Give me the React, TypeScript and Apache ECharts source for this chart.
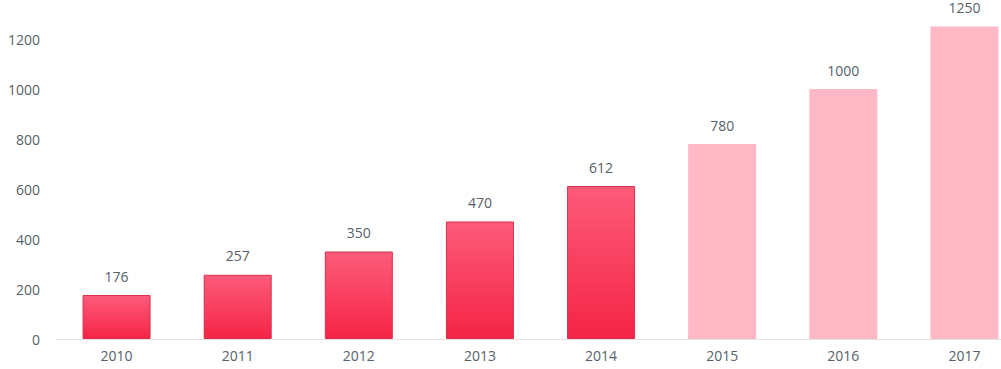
import React, { useEffect, useRef } from "react";
import * as echarts from "echarts";

const years = ["2010", "2011", "2012", "2013", "2014", "2015", "2016", "2017"];
const actualValues = [176, 257, 350, 470, 612, null, null, null];
const forecastValues = [null, null, null, null, null, 780, 1000, 1250];

export default function App() {
  const ref = useRef<HTMLDivElement>(null);
  useEffect(() => {
    if (!ref.current) return;
    const chart = echarts.init(ref.current, null, { renderer: "svg" });
    const labelStyle = {
      show: true,
      position: "top" as const,
      distance: 12,
      color: "#56616a",
      fontSize: 14,
      fontFamily: "Open Sans",
    };
    chart.setOption({
      animation: false,
      grid: { left: 56, top: 14, width: 969, height: 325, containLabel: false },
      xAxis: {
        type: "category",
        data: years,
        axisLine: { show: true, lineStyle: { color: "#e2e2e2", width: 1 } },
        axisTick: { show: false },
        axisLabel: { color: "#56616a", fontSize: 14, fontFamily: "Open Sans", margin: 9 },
      },
      yAxis: {
        type: "value",
        min: 0,
        max: 1300,
        interval: 200,
        axisLine: { show: false },
        axisTick: { show: false },
        splitLine: { show: false },
        axisLabel: {
          color: "#56616a",
          fontSize: 14,
          fontFamily: "Open Sans",
          margin: 16,
          showMaxLabel: false,
          formatter: (v: number) => (v % 200 === 0 ? String(v) : ""),
        },
      },
      series: [
        {
          type: "bar",
          data: actualValues,
          stack: "a",
          barWidth: 68,
          itemStyle: {
            color: new echarts.graphic.LinearGradient(0, 0, 0, 1, [
              { offset: 0, color: "#fd5b7a" },
              { offset: 1, color: "#f52446" },
            ]),
            borderColor: "#d9304c",
            borderWidth: 1,
          },
          label: labelStyle,
        },
        {
          type: "bar",
          data: forecastValues,
          stack: "a",
          barWidth: 68,
          itemStyle: { color: "#ffb8c5" },
          label: labelStyle,
        },
      ],
    });
    return () => chart.dispose();
  }, []);
  return (
    <div style={{ width: 1001, height: 369, position: "absolute", left: 0, top: 0, overflow: "hidden" }}>
      <div ref={ref} style={{ width: 1030, height: 369 }} />
    </div>
  );
}
